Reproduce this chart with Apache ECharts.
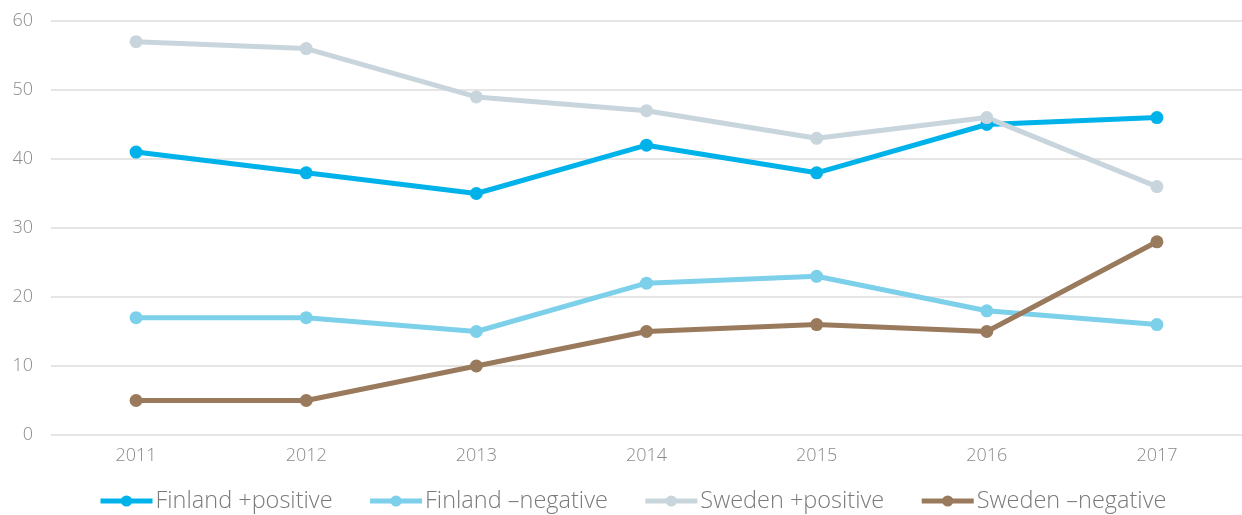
<!DOCTYPE html>
<html>
<head>
<meta charset="utf-8">
<script src="https://cdn.jsdelivr.net/npm/echarts@6/dist/echarts.min.js"></script>
<style>
  html, body { margin: 0; padding: 0; background: #fff; }
  #chart-container { width: 1242px; height: 515px; }
</style>
</head>
<body>
<div id="chart-container"></div>
<script>
var years = ['2011', '2012', '2013', '2014', '2015', '2016', '2017'];
var finlandPositive = [41, 38, 35, 42, 38, 45, 46];
var finlandNegative = [17, 17, 15, 22, 23, 18, 16];
var swedenPositive = [57, 56, 49, 47, 43, 46, 36];
var swedenNegative = [5, 5, 10, 15, 16, 15, 28];
var seriesNames = ['Finland +positive', 'Finland \u2013negative', 'Sweden +positive', 'Sweden \u2013negative'];
var colors = ['#00b2ea', '#7dd0ea', '#c9d5dd', '#9a7a5d'];

var chartDom = document.getElementById('chart-container');
var myChart = echarts.init(chartDom);

var font = 'Open Sans';

function line(name, data, color) {
  return {
    name: name,
    type: 'line',
    data: data,
    symbol: 'circle',
    symbolSize: 13,
    lineStyle: { width: 5, color: color },
    itemStyle: { color: color },
    animation: false
  };
}

option = {
  color: colors,
  grid: {
    left: 51,
    right: -4,
    top: 21,
    bottom: 80
  },
  legend: {
    bottom: -3,
    left: 93,
    itemWidth: 52,
    itemHeight: 14,
    itemGap: 35,
    lineStyle: { width: 5 },
    textStyle: {
      fontFamily: font,
      fontWeight: 300,
      fontSize: 23.5,
      color: '#7a7a7a',
      padding: [0, 0, 0, -2]
    },
    data: seriesNames
  },
  xAxis: {
    type: 'category',
    data: years,
    boundaryGap: true,
    axisLine: { show: false },
    axisTick: { show: false },
    axisLabel: {
      margin: 12,
      fontFamily: font,
      fontWeight: 300,
      fontSize: 18,
      color: '#8a8a8a'
    }
  },
  yAxis: {
    type: 'value',
    min: 0,
    max: 60,
    interval: 10,
    axisLine: { show: false },
    axisTick: { show: false },
    splitLine: { lineStyle: { color: '#dddddd', width: 1.5 } },
    axisLabel: {
      margin: 18,
      fontFamily: font,
      fontWeight: 300,
      fontSize: 18,
      color: '#8a8a8a'
    }
  },
  series: [
    line(seriesNames[0], finlandPositive, colors[0]),
    line(seriesNames[1], finlandNegative, colors[1]),
    line(seriesNames[2], swedenPositive, colors[2]),
    line(seriesNames[3], swedenNegative, colors[3])
  ]
};

option && myChart.setOption(option);
</script>
</body>
</html>
